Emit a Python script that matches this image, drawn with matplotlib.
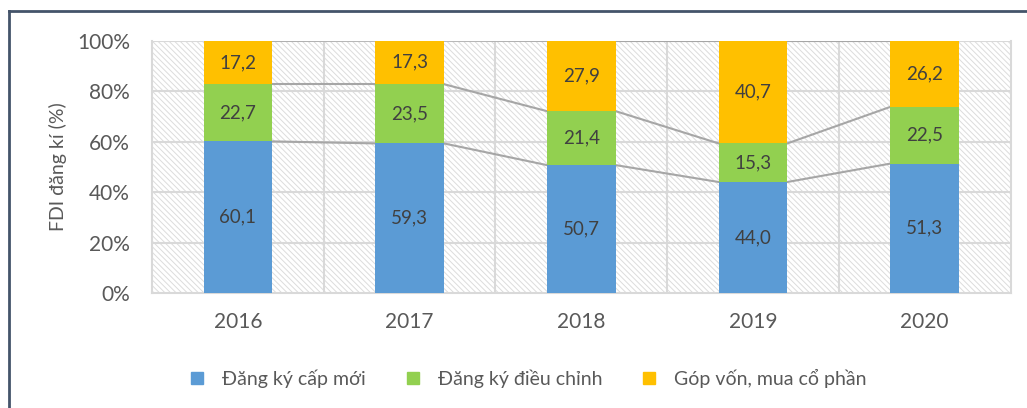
import matplotlib.pyplot as plt
from matplotlib.patches import Rectangle
from matplotlib.lines import Line2D

plt.rcParams['font.family'] = ['Lato', 'DejaVu Sans']
plt.rcParams['hatch.linewidth'] = 0.7

# data
years = ['2016', '2017', '2018', '2019', '2020']
moi = [60.1, 59.3, 50.7, 44.0, 51.3]
dieu_chinh = [22.7, 23.5, 21.4, 15.3, 22.5]
gop_von = [17.2, 17.3, 27.9, 40.7, 26.2]
series_names = ['Đăng ký cấp mới', 'Đăng ký điều chỉnh', 'Góp vốn, mua cổ phần']
colors = ['#5B9BD5', '#92D050', '#FFC000']

text_col = '#595959'
grid_col = '#D9D9D9'

fig = plt.figure(figsize=(10.27, 4.08), dpi=100)
ax = fig.add_axes([0.148, 0.282, 0.836, 0.618])

# hatched plot area background
ax.add_patch(Rectangle((0, 0), 1, 1, transform=ax.transAxes, facecolor='white',
                       edgecolor='#DCDCDC', hatch='\\' * 6, linewidth=0, zorder=0.1))

x = list(range(len(years)))
w = 0.4
bottoms = [0.0] * len(years)
tops = []
for vals, c in zip([moi, dieu_chinh, gop_von], colors):
    ax.bar(x, vals, width=w, bottom=bottoms, color=c, zorder=3)
    for i, v in enumerate(vals):
        ax.text(x[i], bottoms[i] + v / 2, f'{v:.1f}'.replace('.', ','),
                ha='center', va='center', fontsize=13.5, color='#404040', zorder=4)
    bottoms = [b + v for b, v in zip(bottoms, vals)]
    tops.append(list(bottoms))

# series lines between bars
for lvl in tops:
    for i in range(len(years) - 1):
        ax.plot([x[i] + w / 2, x[i + 1] - w / 2], [lvl[i], lvl[i + 1]],
                color='#A6A6A6', lw=1.5, zorder=2)

ax.set_xlim(-0.5, len(years) - 0.5)
ax.set_ylim(0, 100)
ax.set_yticks(range(0, 101, 20))
ax.set_yticklabels([f'{t}%' for t in range(0, 101, 20)])
ax.set_xticks(x)
ax.set_xticklabels(years)

# gridlines: horizontal at ticks, vertical at category boundaries
for t in range(20, 101, 20):
    ax.axhline(t, color=grid_col, lw=1.5, zorder=1)
for b in [i + 0.5 for i in range(len(years) - 1)]:
    ax.axvline(b, color=grid_col, lw=1.5, zorder=1)

ax.spines['top'].set_visible(False)
for s in ['left', 'bottom', 'right']:
    ax.spines[s].set_color(grid_col)
    ax.spines[s].set_linewidth(1.5)

ax.tick_params(axis='both', length=0, labelsize=15, colors=text_col)
ax.tick_params(axis='y', pad=16)
ax.tick_params(axis='x', pad=14)
ax.set_ylabel('FDI đăng kí (%)', fontsize=14, color=text_col, labelpad=7)

handles = [Line2D([], [], marker='s', ls='', markersize=8.6, color=c) for c in colors]
fig.legend(handles, series_names, loc='center', bbox_to_anchor=(0.514, 0.073),
           ncol=3, frameon=False, fontsize=14, labelcolor=text_col,
           handlelength=0.8, handletextpad=0.9, columnspacing=2.0)

# outer chart border (top and left edges visible)
fig.add_artist(Line2D([0.0088, 0.0088], [0, 0.973], color='#44546A', lw=2,
                      transform=fig.transFigure))
fig.add_artist(Line2D([0.0088, 1.0], [0.973, 0.973], color='#44546A', lw=2,
                      transform=fig.transFigure))

fig.savefig('out.png', dpi=100)
